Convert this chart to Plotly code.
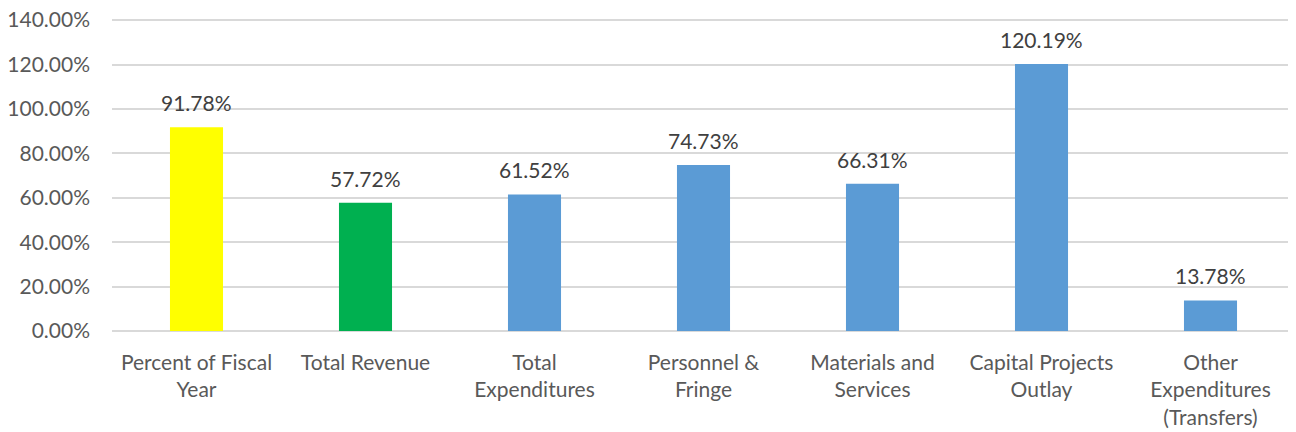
import plotly.graph_objects as go

categories = ["Percent of Fiscal<br>Year", "Total Revenue", "Total<br>Expenditures",
              "Personnel &<br>Fringe", "Materials and<br>Services",
              "Capital Projects<br>Outlay", "Other<br>Expenditures<br>(Transfers)"]
values = [91.78, 57.72, 61.52, 74.73, 66.31, 120.19, 13.78]
colors = ["#FFFF00", "#00B050", "#5B9BD5", "#5B9BD5", "#5B9BD5", "#5B9BD5", "#5B9BD5"]

FONT = "Lato"
TXT = "#595959"
FS = 21

fig = go.Figure(go.Bar(x=categories, y=values, marker=dict(color=colors, line_width=0),
                       hoverinfo="skip"))

for c, v in zip(categories, values):
    fig.add_annotation(x=c, y=v, text=f"{v:.2f}%", showarrow=False, yanchor="bottom",
                       yshift=10, font=dict(family=FONT, size=FS, color="#404040"))

fig.update_layout(
    width=1296, height=432,
    margin=dict(l=104, r=9, t=11, b=109),
    paper_bgcolor="white", plot_bgcolor="white",
    bargap=0.686, showlegend=False,
    font=dict(family=FONT, size=FS, color=TXT),
)
fig.update_yaxes(range=[0, 140.5], dtick=20, tickformat=".2f", ticksuffix="%",
                 showgrid=True, gridcolor="#D9D9D9", gridwidth=1.5,
                 zeroline=True, zerolinecolor="#D9D9D9", zerolinewidth=1.5,
                 ticks="", tickfont=dict(family=FONT, size=FS, color=TXT),
                 ticklabelstandoff=21, automargin=False, ticklabeloverflow="allow")
fig.update_xaxes(showline=False, ticks="", tickfont=dict(family=FONT, size=FS, color=TXT),
                 tickangle=0, ticklabelstandoff=17, automargin=False, ticklabeloverflow="allow")

fig.write_html("out.html")
